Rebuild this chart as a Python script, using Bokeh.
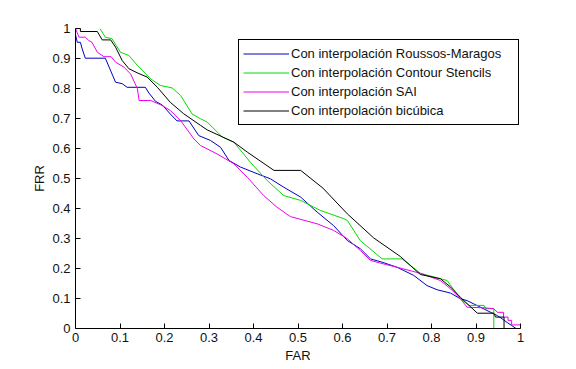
from bokeh.plotting import figure
from bokeh.models import Range1d, FixedTicker, Legend, LegendItem
from bokeh.embed import file_html
from bokeh.resources import INLINE

# Series (FAR -> x, FRR -> y)
rm_far = [0.0, 0.004, 0.011, 0.015, 0.022, 0.067, 0.09, 0.105, 0.116, 0.157, 0.165, 0.18, 0.195,
          0.213, 0.228, 0.255, 0.277, 0.303, 0.326, 0.345, 0.371, 0.408, 0.438, 0.468, 0.506, 0.543,
          0.58, 0.611, 0.64, 0.663, 0.689, 0.723, 0.76, 0.79, 0.813, 0.843, 0.865, 0.88, 0.91, 0.933,
          0.948, 0.959, 0.97, 0.98, 0.99, 1.0]
rm_frr = [0.979, 0.954, 0.954, 0.932, 0.901, 0.901, 0.821, 0.816, 0.804, 0.804, 0.785, 0.757, 0.745,
          0.715, 0.692, 0.692, 0.643, 0.627, 0.604, 0.56, 0.538, 0.516, 0.499, 0.471, 0.438, 0.388,
          0.343, 0.293, 0.266, 0.232, 0.221, 0.204, 0.177, 0.143, 0.129, 0.118, 0.099, 0.093, 0.071,
          0.054, 0.043, 0.032, 0.02, 0.01, 0.0, 0.0]

cs_far = [0.055, 0.067, 0.082, 0.101, 0.12, 0.139, 0.169, 0.191, 0.217, 0.236, 0.262, 0.281, 0.296,
          0.33, 0.356, 0.393, 0.431, 0.468, 0.506, 0.551, 0.603, 0.611, 0.64, 0.689, 0.734, 0.775,
          0.835, 0.865, 0.884, 0.918, 0.922, 0.94, 0.94]
cs_frr = [1.0, 0.971, 0.966, 0.921, 0.91, 0.877, 0.832, 0.81, 0.802, 0.777, 0.715, 0.699, 0.688,
          0.638, 0.621, 0.554, 0.493, 0.443, 0.427, 0.393, 0.366, 0.36, 0.293, 0.232, 0.232, 0.184,
          0.16, 0.099, 0.077, 0.077, 0.066, 0.066, 0.0]

sai_far = [0.0, 0.004, 0.008, 0.022, 0.03, 0.037, 0.049, 0.064, 0.08, 0.09, 0.109, 0.124, 0.139,
           0.143, 0.169, 0.191, 0.213, 0.236, 0.25, 0.266, 0.281, 0.318, 0.356, 0.386, 0.423, 0.453,
           0.483, 0.543, 0.58, 0.611, 0.64, 0.663, 0.685, 0.723, 0.775, 0.82, 0.843, 0.865, 0.88,
           0.918, 0.94, 0.948, 0.962, 0.962, 0.972, 0.972, 0.98, 0.98, 1.0, 1.0]
sai_frr = [1.0, 0.985, 0.971, 0.971, 0.96, 0.954, 0.921, 0.906, 0.906, 0.888, 0.871, 0.848, 0.8,
           0.76, 0.76, 0.746, 0.727, 0.693, 0.665, 0.632, 0.61, 0.582, 0.549, 0.504, 0.443, 0.404,
           0.373, 0.349, 0.327, 0.299, 0.26, 0.227, 0.218, 0.204, 0.184, 0.16, 0.132, 0.099, 0.071,
           0.069, 0.066, 0.054, 0.054, 0.038, 0.038, 0.027, 0.027, 0.012, 0.012, 0.0]

bic_far = [0.0, 0.011, 0.011, 0.049, 0.06, 0.079, 0.09, 0.105, 0.12, 0.139, 0.161, 0.184, 0.213,
           0.243, 0.281, 0.296, 0.356, 0.386, 0.446, 0.506, 0.556, 0.611, 0.67, 0.73, 0.775, 0.82,
           0.843, 0.865, 0.903, 0.94, 0.944, 0.963, 0.963]
bic_frr = [1.0, 1.0, 0.99, 0.99, 0.962, 0.962, 0.938, 0.893, 0.866, 0.852, 0.838, 0.804, 0.754,
           0.716, 0.677, 0.662, 0.621, 0.588, 0.527, 0.527, 0.468, 0.382, 0.302, 0.24, 0.18, 0.166,
           0.138, 0.104, 0.051, 0.051, 0.038, 0.038, 0.0]

series_names = ["Con interpolación Roussos-Maragos", "Con interpolación Contour Stencils",
                "Con interpolación SAI", "Con interpolación bicúbica"]
series_colors = ["#0000c0", "#00dd00", "#ee00ee", "#000000"]

ticks = [0, 0.1, 0.2, 0.3, 0.4, 0.5, 0.6, 0.7, 0.8, 0.9, 1]
tick_labels = ["0", "0.1", "0.2", "0.3", "0.4", "0.5", "0.6", "0.7", "0.8", "0.9", "1"]

FONT = "Liberation Sans"

p = figure(frame_width=445, frame_height=300, output_backend="svg", toolbar_location=None,
           x_range=Range1d(0, 1), y_range=Range1d(0, 1),
           min_border_left=75, min_border_top=28, min_border_right=48, min_border_bottom=36)
p.outline_line_color = None
p.background_fill_color = "white"
p.border_fill_color = "white"
p.grid.visible = False

overrides = {t: l for t, l in zip(ticks, tick_labels)}
for ax in (p.xaxis[0], p.yaxis[0]):
    ax.ticker = FixedTicker(ticks=ticks)
    ax.major_label_overrides = overrides
    ax.minor_tick_line_color = None
    ax.major_tick_in = 5
    ax.major_tick_out = 0
    ax.axis_line_color = "black"
    ax.major_tick_line_color = "black"
    ax.major_label_text_font = FONT
    ax.major_label_text_font_size = "13px"
    ax.major_label_text_color = "#111111"
    ax.axis_label_text_font = FONT
    ax.axis_label_text_font_size = "13px"
    ax.axis_label_text_font_style = "normal"
    ax.axis_label_text_color = "#111111"

p.xaxis.axis_label = "FAR"
p.yaxis.axis_label = "FRR"
p.xaxis.major_label_standoff = 4
p.xaxis.axis_label_standoff = 3
p.yaxis.major_label_standoff = 5
p.yaxis.axis_label_standoff = 2

data = [(rm_far, rm_frr), (cs_far, cs_frr), (sai_far, sai_frr), (bic_far, bic_frr)]
items = []
for (xs, ys), name, col in zip(data, series_names, series_colors):
    r = p.line(xs, ys, line_color=col, line_width=1)
    items.append(LegendItem(label=name, renderers=[r]))

legend = Legend(items=items, location=(163, 203), margin=0, padding=4, spacing=0,
                label_height=19, glyph_height=19, glyph_width=46, label_standoff=2,
                label_width=223, label_text_font=FONT, label_text_font_size="13px",
                label_text_color="#111111",
                border_line_color="black", border_line_width=1, border_line_alpha=1,
                background_fill_color="white", background_fill_alpha=1)
p.add_layout(legend)

open("out.html", "w").write(file_html(p, INLINE))
